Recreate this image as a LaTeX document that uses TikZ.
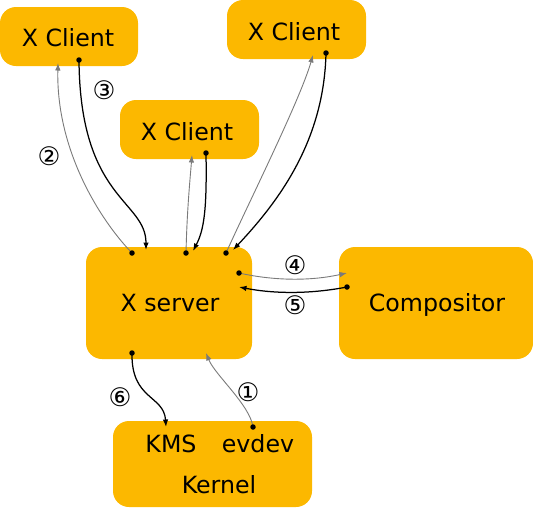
\documentclass[tikz,border=0pt]{standalone}
\usepackage{fontspec}
\setmainfont{DejaVu Sans}
\usetikzlibrary{arrows.meta}
\definecolor{boxc}{HTML}{FCB800}
\definecolor{reqc}{HTML}{7A7A7A}
\tikzset{
  box/.style={fill=boxc, rounded corners=16pt, inner sep=0pt},
  lbl/.style={anchor=base, inner sep=0pt, font=\fontsize{23.7}{28}\selectfont},
  num/.style={inner sep=0pt, font=\fontsize{25.5}{30}\selectfont},
  req/.style={draw=reqc, line width=0.9pt, -{Latex[length=7.5pt,width=5.5pt]}},
  rep/.style={draw=black, line width=1.25pt, -{Latex[length=7.5pt,width=5.5pt]}},
  dot/.style={circle, fill=black, inner sep=0pt, minimum size=5.5pt},
}
\begin{document}
\begin{tikzpicture}[x=1pt,y=-1pt]
\useasboundingbox (0,0) rectangle (533,507);
% boxes
\node[box, minimum width=138pt, minimum height=59pt] (c1) at (69,36.5) {};
\node[box, minimum width=139pt, minimum height=59pt] (c2) at (189.5,129.5) {};
\node[box, minimum width=139pt, minimum height=59pt] (c3) at (296.5,29.5) {};
\node[box, minimum width=166pt, minimum height=112pt] (xs) at (169,303) {};
\node[box, minimum width=194pt, minimum height=112pt] (co) at (436,303) {};
\node[box, minimum width=199pt, minimum height=86pt] (ke) at (212.5,464) {};
% texts
\node[lbl] (t1) at (68,46.7) {X Client};
\node[lbl] (t2) at (187,140) {X Client};
\node[lbl] (t3) at (294,40) {X Client};
\node[lbl] (txs) at (170,311) {X server};
\node[lbl] (tco) at (437,311) {Compositor};
\node[lbl] (tkms) at (171,452) {KMS};
\node[lbl] (tev) at (258,452) {evdev};
\node[lbl] (tke) at (219,493) {Kernel};
% numbers
\node[num] (n1) at (248,392) {①};
\node[num] (n2) at (49,156) {②};
\node[num] (n3) at (104,90) {③};
\node[num] (n4) at (295,265) {④};
\node[num] (n5) at (295,305) {⑤};
\node[num] (n6) at (120,397) {⑥};
% connection points
\coordinate (xsA) at (132,253);
\coordinate (xsB) at (146,250);
\coordinate (xsC) at (186,253);
\coordinate (xsD) at (193,251);
\coordinate (xsE) at (226,253);
\coordinate (xsF) at (233,250);
\coordinate (xsG) at (239,273);
\coordinate (xsH) at (239,287);
\coordinate (xsI) at (132,353);
\coordinate (xsJ) at (206,353);
\coordinate (c1in) at (58,63);
\coordinate (c1out) at (79,60);
\coordinate (c2in) at (192,155);
\coordinate (c2out) at (206,153);
\coordinate (c3in) at (313,55);
\coordinate (c3out) at (326,53);
\coordinate (coin) at (347,273);
\coordinate (coout) at (347,287);
\coordinate (kms) at (166,427);
\coordinate (ev) at (253,427);
% connectors
\draw[req] (xsA) .. controls (100,220) and (56,150) .. (c1in);
\draw[rep] (c1out) .. controls (80,200) and (146,200) .. (xsB);
\draw[req] (xsC) .. controls (187,210) and (190,180) .. (c2in);
\draw[rep] (c2out) .. controls (207,210) and (204,230) .. (xsD);
\draw[req] (xsE) .. controls (250,200) and (300,100) .. (c3in);
\draw[rep] (c3out) .. controls (324,140) and (280,200) .. (xsF);
\draw[req] (xsG) .. controls (275,281) and (311,281) .. (coin);
\draw[rep] (coout) .. controls (311,294) and (275,294) .. (xsH);
\draw[req] (ev) .. controls (250,405) and (215,375) .. (xsJ);
\draw[rep] (xsI) .. controls (131,400) and (164,395) .. (kms);
% dots
\foreach \p in {xsA,c1out,xsC,c2out,xsE,c3out,xsG,coout,ev,xsI}
  \node[dot] at (\p) {};
\end{tikzpicture}
\end{document}
